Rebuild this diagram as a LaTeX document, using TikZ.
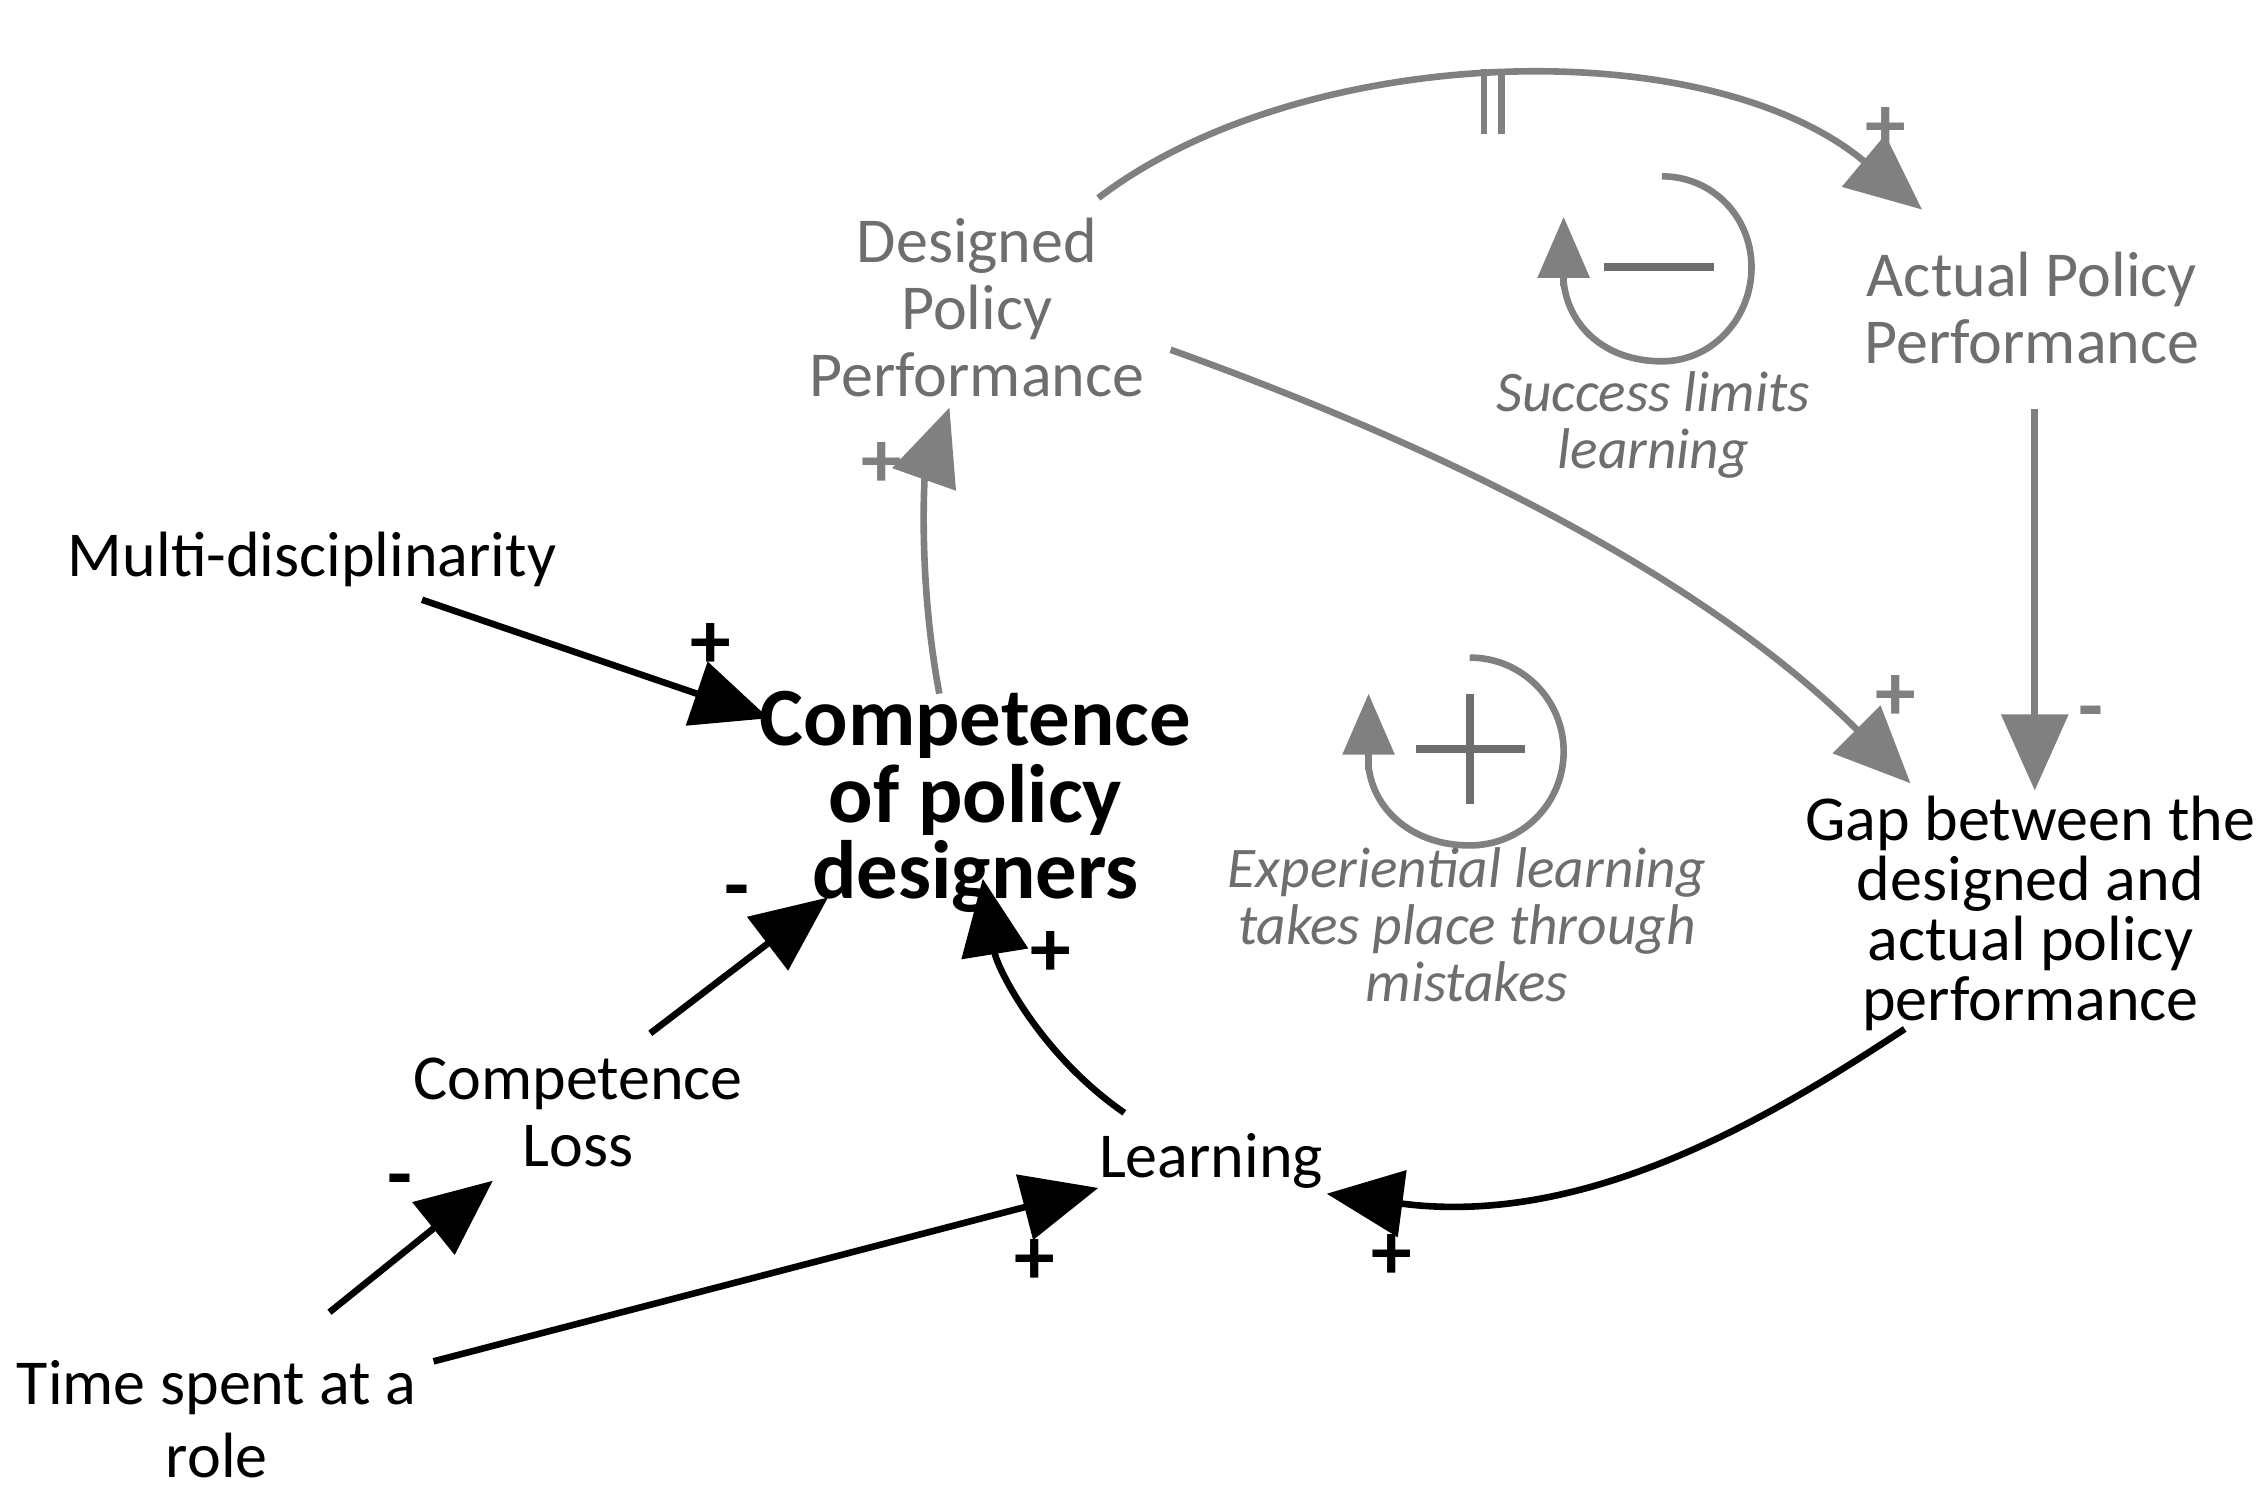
\documentclass[tikz,border=0pt]{standalone}
\usepackage{fontspec}
\setmainfont{Carlito}
\usetikzlibrary{arrows.meta}
\definecolor{gr}{RGB}{128,128,128}
\definecolor{grt}{RGB}{110,110,110}
\begin{document}
\begin{tikzpicture}[x={(0.01cm,0)},y={(0,-0.01cm)},
  lab/.style={align=center,font=\fontsize{12.6}{13.2}\selectfont,inner sep=0},
  arr/.style={line width=1.3pt,-{Triangle[length=15pt,width=13pt]}},
  blk/.style={arr,black},
  gry/.style={arr,gr},
  it/.style={align=center,font=\fontsize{11.3}{11.2}\selectfont\itshape,text=grt,inner sep=0}]
\useasboundingbox (0,0) rectangle (1568,1035);
% nodes
\node[lab,text=grt] (dpp) at (676,213) {Designed\\Policy\\Performance};
\node[lab,text=grt] (app) at (1406,213) {Actual Policy\\Performance};
\node[lab] (md) at (216,387) {Multi-disciplinarity};
\node[lab,font=\fontsize{16.3}{10.8}\selectfont\bfseries] (cpd) at (675,555) {Competence\\of policy\\designers};
\node[lab] (cl) at (400,770) {Competence\\Loss};
\node[lab] (ln) at (838,803) {Learning};
\node[lab,font=\fontsize{12.6}{14.5}\selectfont] (ts) at (150,982) {Time spent at a\\role};
\node[lab,font=\fontsize{12.6}{11.8}\selectfont] (gap) at (1405,632) {Gap between the\\designed and\\actual policy\\performance};
\node[it] (l1) at (1144,294) {Success limits\\learning};
\node[it] (l2) at (1015,640) {Experiential learning\\takes place through\\mistakes};
% endpoints
\coordinate (a1) at (292,415); \coordinate (b1) at (532,497);
\coordinate (a2) at (450,715); \coordinate (b2) at (573,621);
\coordinate (a3) at (228,908); \coordinate (b3) at (341,817);
\coordinate (a4) at (300,942); \coordinate (b4) at (760,822);
\coordinate (a5) at (778,770); \coordinate (b5) at (680,608);
\coordinate (a6) at (1318,712); \coordinate (b6) at (918,826);
\coordinate (a7) at (650,480); \coordinate (b7) at (657,282);
\coordinate (a8) at (760,137); \coordinate (b8) at (1330,145);
\coordinate (a9) at (810,242); \coordinate (b9) at (1322,542);
\coordinate (a10) at (1408,283); \coordinate (b10) at (1408,547);
% connectors
\draw[blk] (a1) -- (b1);
\draw[blk] (a2) -- (b2);
\draw[blk] (a3) -- (b3);
\draw[blk] (a4) -- (b4);
\draw[blk] (a5) .. controls (720,730) and (690,670) .. (b5);
\draw[blk] (a6) .. controls (1230,770) and (1100,850) .. (b6);
\draw[gry] (a7) .. controls (635,400) and (640,330) .. (b7);
\draw[gry] (a8) .. controls (900,30) and (1180,20) .. (b8);
\draw[gry] (a9) .. controls (1000,310) and (1180,400) .. (b9);
\draw[gry] (a10) -- (b10);
% delay marks
\draw[gr,line width=1.3pt] (1027,48) -- (1027,93) (1039,48) -- (1039,93);
% polarity signs
\tikzset{pb/.style={font=\fontsize{16}{16}\selectfont\bfseries,inner sep=0}, pg/.style={pb,text=gr}}
\node[pb] (s1) at (492,447) {+};
\node[pb] (s2) at (510,622) {-};
\node[pb] (s3) at (277,822) {-};
\node[pb] (s4) at (716,873) {+};
\node[pb] (s5) at (727,660) {+};
\node[pb] (s6) at (963,870) {+};
\node[pg] (s7) at (610,322) {+};
\node[pg] (s8) at (1305,90) {+};
\node[pg] (s9) at (1312,483) {+};
\node[pg] (s10) at (1447,498) {-};
% loop symbols
\draw[gr,line width=1.3pt] (1150,122) .. controls (1185,122) and (1212,150) .. (1212,185) .. controls (1212,220) and (1185,250) .. (1150,250) .. controls (1110,250) and (1085,225) .. (1082,195);
\draw[gr,line width=1.3pt,-{Triangle[length=12pt,width=10pt]}] (1082,198) -- (1082,150);
\draw[grt,line width=1.6pt] (1110,185) -- (1186,185);
\draw[gr,line width=1.3pt] (1017,455) .. controls (1053,455) and (1082,484) .. (1082,520) .. controls (1082,556) and (1053,585) .. (1017,585) .. controls (977,585) and (950,560) .. (947,530);
\draw[gr,line width=1.3pt,-{Triangle[length=12pt,width=10pt]}] (947,533) -- (947,480);
\draw[grt,line width=1.6pt] (980,518) -- (1055,518) (1017,480) -- (1017,556);
\end{tikzpicture}
\end{document}
